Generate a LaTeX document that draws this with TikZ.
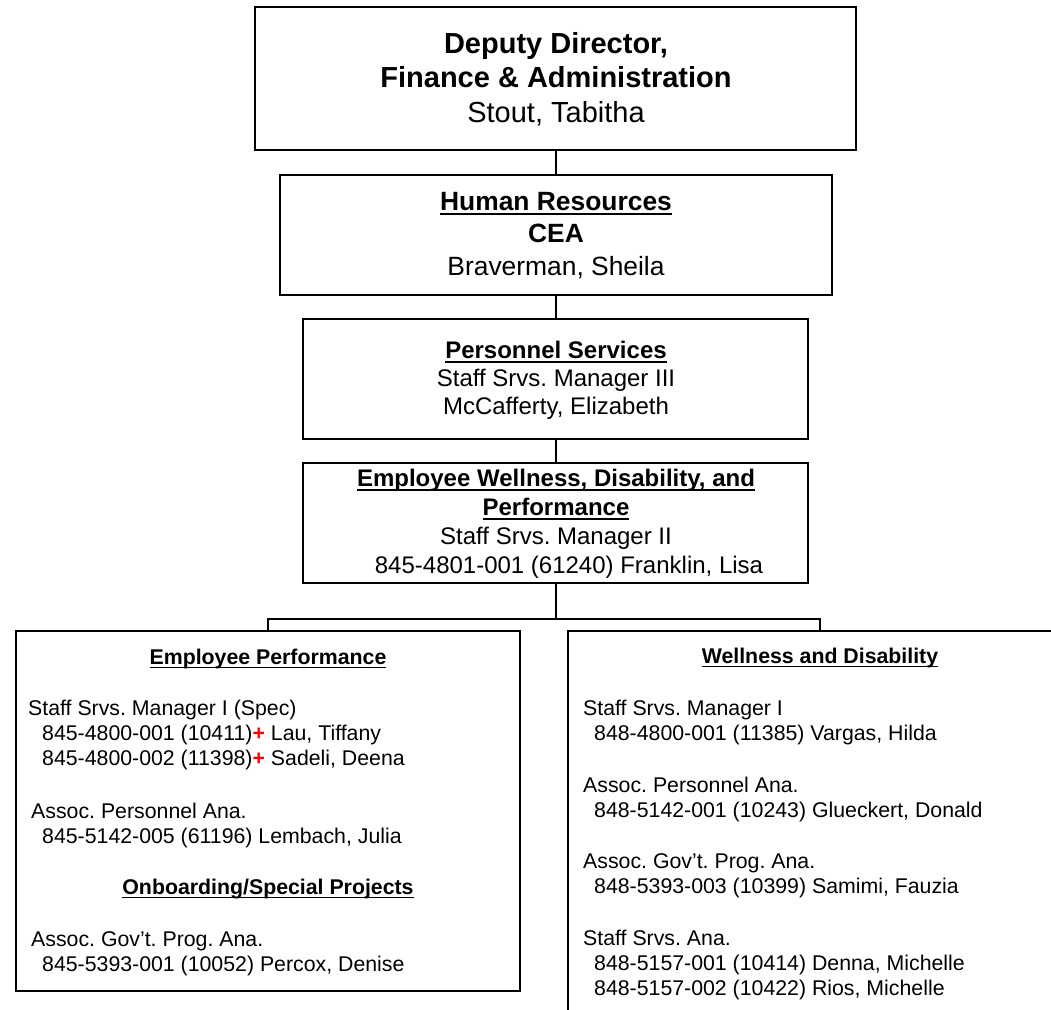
\documentclass[tikz,border=0pt]{standalone}
\usepackage{fontspec}
\setmainfont{Liberation Sans}
\usepackage{xcolor}
\frenchspacing
\newcommand{\undl}[1]{\setbox0=\hbox{#1}\rlap{\rule[-0.19em]{\wd0}{0.07em}}\box0}
\newcommand{\redplus}{\textcolor{red}{\textbf{+}}}
\begin{document}
\frenchspacing
\begin{tikzpicture}[x=1pt,y=-1pt,
  box/.style={draw,line width=2pt,rectangle,inner sep=0pt},
  conn/.style={line width=2pt},
  ctext/.style={anchor=base,inner sep=0pt},
  ltext/.style={anchor=base west,inner sep=0pt},
  fA/.style={font=\fontsize{29}{35}\selectfont},
  fAb/.style={font=\fontsize{29}{35}\selectfont\bfseries},
  fB/.style={font=\fontsize{26.4}{31}\selectfont},
  fBb/.style={font=\fontsize{26.4}{31}\selectfont\bfseries},
  fC/.style={font=\fontsize{24}{28}\selectfont},
  fCb/.style={font=\fontsize{24}{28}\selectfont\bfseries},
  fD/.style={font=\fontsize{21.3}{25}\selectfont},
  fDb/.style={font=\fontsize{21.3}{25}\selectfont\bfseries},
]
\useasboundingbox (0,0) rectangle (1051,1009);
\fill[white] (0,0) rectangle (1051,1009);
\begin{scope}
\clip (0,0) rectangle (1051,1009);
% boxes
\node[box,minimum width=601pt,minimum height=143pt] (top) at (555.5,78.5) {};
\node[box,minimum width=552pt,minimum height=120pt] (hr) at (556,235) {};
\node[box,minimum width=505pt,minimum height=120pt] (pers) at (555.5,379) {};
\node[box,minimum width=505pt,minimum height=120pt] (ewdp) at (555.5,523) {};
\node[box,minimum width=504pt,minimum height=360pt] (left) at (268,811) {};
\node[box,minimum width=504pt,minimum height=399pt] (right) at (820,830.5) {};
% connectors
\coordinate (axis) at (556,0);
\coordinate (bus) at (556,619);
\draw[conn] (top.south -| axis) -- (hr.north -| axis);
\draw[conn] (hr.south -| axis) -- (pers.north -| axis);
\draw[conn] (pers.south -| axis) -- (ewdp.north -| axis);
\draw[conn] (ewdp.south -| axis) -- (bus);
\draw[conn] (left.north) |- (bus) -| (right.north);
\end{scope}
% top box text
\node[ctext,fAb] (t1) at (556,53.5) {Deputy Director,};
\node[ctext,fAb] (t2) at (556,87) {Finance \& Administration};
\node[ctext,fA] (t3) at (556,122) {Stout, Tabitha};
% HR
\node[ctext,fBb] (h1) at (556,210) {\undl{Human Resources}};
\node[ctext,fBb] (h2) at (556,242) {CEA};
\node[ctext,fB] (h3) at (556,275) {Braverman, Sheila};
% Personnel
\node[ctext,fCb] (p1) at (556,358) {\undl{Personnel Services}};
\node[ctext,fC] (p2) at (556,386.5) {Staff Srvs. Manager III};
\node[ctext,fC] (p3) at (556,414.5) {McCafferty, Elizabeth};
% EWDP
\node[ctext,fCb] (e1) at (556,486) {\undl{Employee Wellness, Disability, and}};
\node[ctext,fCb] (e2) at (556,515) {\undl{Performance}};
\node[ctext,fC] (e3) at (556,544) {Staff Srvs. Manager II};
\node[ctext,fC] (e4) at (569,573) {845-4801-001 (61240) Franklin, Lisa};
% left box
\node[ctext,fDb] (l0) at (268,664) {\undl{Employee Performance}};
\node[ltext,fD] (l1) at (28,715) {Staff Srvs. Manager I (Spec)};
\node[ltext,fD] (l2) at (42,740) {845-4800-001 (10411)\redplus{} Lau, Tiffany};
\node[ltext,fD] (l3) at (42,765) {845-4800-002 (11398)\redplus{} Sadeli, Deena};
\node[ltext,fD] (l4) at (31,818) {Assoc. Personnel Ana.};
\node[ltext,fD] (l5) at (42,843) {845-5142-005 (61196) Lembach, Julia};
\node[ctext,fDb] (l6) at (268,894) {\undl{Onboarding/Special Projects}};
\node[ltext,fD] (l7) at (31,946) {Assoc. Gov’t. Prog. Ana.};
\node[ltext,fD] (l8) at (42,971) {845-5393-001 (10052) Percox, Denise};
% right box
\node[ctext,fDb] (r0) at (820,663) {\undl{Wellness and Disability}};
\node[ltext,fD] (r1) at (583,715) {Staff Srvs. Manager I};
\node[ltext,fD] (r2) at (594,740) {848-4800-001 (11385) Vargas, Hilda};
\node[ltext,fD] (r3) at (583,792) {Assoc. Personnel Ana.};
\node[ltext,fD] (r4) at (594,817) {848-5142-001 (10243) Glueckert, Donald};
\node[ltext,fD] (r5) at (583,868) {Assoc. Gov’t. Prog. Ana.};
\node[ltext,fD] (r6) at (594,893) {848-5393-003 (10399) Samimi, Fauzia};
\node[ltext,fD] (r7) at (583,945) {Staff Srvs. Ana.};
\node[ltext,fD] (r8) at (594,970) {848-5157-001 (10414) Denna, Michelle};
\node[ltext,fD] (r9) at (594,995) {848-5157-002 (10422) Rios, Michelle};
\end{tikzpicture}
\end{document}
